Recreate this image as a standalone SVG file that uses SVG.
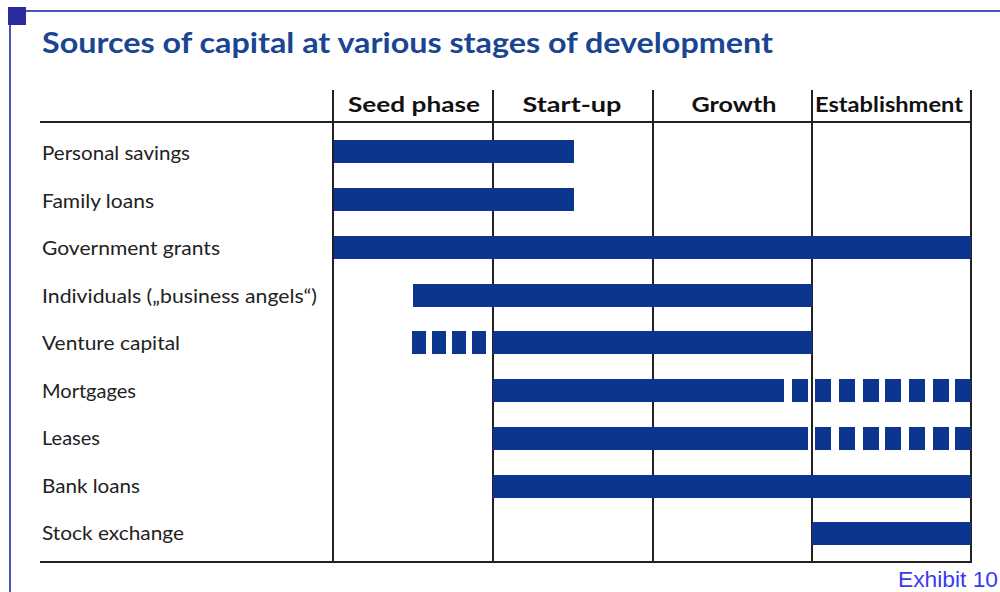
<svg xmlns="http://www.w3.org/2000/svg" width="1000" height="592" viewBox="0 0 1000 592">
<style>
.frame{stroke:#4a55c4;stroke-width:2;fill:none}
.title{font-family:Lato,"Open Sans","Liberation Sans",sans-serif;font-weight:bold;font-size:29px;fill:#1a4592}
.hdr{font-family:Lato,"Open Sans","Liberation Sans",sans-serif;font-weight:bold;font-size:20px;fill:#111;text-anchor:middle}
.lbl{font-family:Lato,"Open Sans","Liberation Sans",sans-serif;font-size:19px;fill:#222}
.grid{stroke:#222;stroke-width:2;fill:none}
.bar{fill:#0c358f}
.exh{font-family:"Liberation Sans",Arial,sans-serif;font-size:22px;fill:#3a3af0}
</style>
<rect width="1000" height="592" fill="#ffffff"/>
<g id="frame">
<line class="frame" x1="10" y1="11" x2="1000" y2="11"/>
<line class="frame" x1="10" y1="11" x2="10" y2="592"/>
<rect x="8" y="7" width="18" height="18" fill="#2b2b9e"/>
</g>
<text id="title" class="title" x="42" y="53" textLength="731" lengthAdjust="spacingAndGlyphs">Sources of capital at various stages of development</text>
<g id="grid">
<line class="grid" x1="40" y1="122" x2="972" y2="122"/>
<line class="grid" x1="40" y1="562" x2="972" y2="562"/>
<line class="grid" x1="333" y1="90" x2="333" y2="562"/>
<line class="grid" x1="493" y1="90" x2="493" y2="562"/>
<line class="grid" x1="653" y1="90" x2="653" y2="562"/>
<line class="grid" x1="812" y1="90" x2="812" y2="562"/>
<line class="grid" x1="971" y1="90" x2="971" y2="562"/>
</g>
<g id="headers">
<text class="hdr" x="414" y="112" textLength="132" lengthAdjust="spacingAndGlyphs">Seed phase</text>
<text class="hdr" x="572" y="112" textLength="99" lengthAdjust="spacingAndGlyphs">Start-up</text>
<text class="hdr" x="734" y="112" textLength="85" lengthAdjust="spacingAndGlyphs">Growth</text>
<text class="hdr" x="889" y="112" textLength="148" lengthAdjust="spacingAndGlyphs">Establishment</text>
</g>
<g id="row-personal-savings">
<text class="lbl" x="42" y="160" textLength="148" lengthAdjust="spacingAndGlyphs">Personal savings</text>
<rect class="bar" x="334" y="140" width="240" height="23"/>
</g>
<g id="row-family-loans">
<text class="lbl" x="42" y="208" textLength="112" lengthAdjust="spacingAndGlyphs">Family loans</text>
<rect class="bar" x="334" y="188" width="240" height="23"/>
</g>
<g id="row-government-grants">
<text class="lbl" x="42" y="255" textLength="178" lengthAdjust="spacingAndGlyphs">Government grants</text>
<rect class="bar" x="334" y="236" width="637" height="23"/>
</g>
<g id="row-individuals">
<text class="lbl" x="42" y="303" textLength="275" lengthAdjust="spacingAndGlyphs">Individuals („business angels“)</text>
<rect class="bar" x="413" y="284" width="399" height="23"/>
</g>
<g id="row-venture-capital">
<text class="lbl" x="42" y="350" textLength="138" lengthAdjust="spacingAndGlyphs">Venture capital</text>
<rect class="bar" x="412" y="331" width="14" height="23"/>
<rect class="bar" x="432" y="331" width="14" height="23"/>
<rect class="bar" x="452" y="331" width="14" height="23"/>
<rect class="bar" x="472" y="331" width="14" height="23"/>
<rect class="bar" x="493" y="331" width="319" height="23"/>
</g>
<g id="row-mortgages">
<text class="lbl" x="42" y="398" textLength="94" lengthAdjust="spacingAndGlyphs">Mortgages</text>
<rect class="bar" x="493" y="379" width="291" height="23"/>
<rect class="bar" x="792" y="379" width="16" height="23"/>
<rect class="bar" x="815" y="379" width="16" height="23"/>
<rect class="bar" x="839" y="379" width="16" height="23"/>
<rect class="bar" x="863" y="379" width="16" height="23"/>
<rect class="bar" x="885" y="379" width="16" height="23"/>
<rect class="bar" x="909" y="379" width="16" height="23"/>
<rect class="bar" x="933" y="379" width="16" height="23"/>
<rect class="bar" x="955" y="379" width="16" height="23"/>
</g>
<g id="row-leases">
<text class="lbl" x="42" y="445" textLength="58" lengthAdjust="spacingAndGlyphs">Leases</text>
<rect class="bar" x="493" y="427" width="315" height="23"/>
<rect class="bar" x="815" y="427" width="16" height="23"/>
<rect class="bar" x="839" y="427" width="16" height="23"/>
<rect class="bar" x="863" y="427" width="16" height="23"/>
<rect class="bar" x="885" y="427" width="16" height="23"/>
<rect class="bar" x="909" y="427" width="16" height="23"/>
<rect class="bar" x="933" y="427" width="16" height="23"/>
<rect class="bar" x="955" y="427" width="16" height="23"/>
</g>
<g id="row-bank-loans">
<text class="lbl" x="42" y="493" textLength="98" lengthAdjust="spacingAndGlyphs">Bank loans</text>
<rect class="bar" x="493" y="475" width="478" height="23"/>
</g>
<g id="row-stock-exchange">
<text class="lbl" x="42" y="540" textLength="142" lengthAdjust="spacingAndGlyphs">Stock exchange</text>
<rect class="bar" x="812" y="522" width="159" height="23"/>
</g>
<text id="exhibit" class="exh" x="898" y="587" textLength="100" lengthAdjust="spacingAndGlyphs">Exhibit 10</text>
</svg>
